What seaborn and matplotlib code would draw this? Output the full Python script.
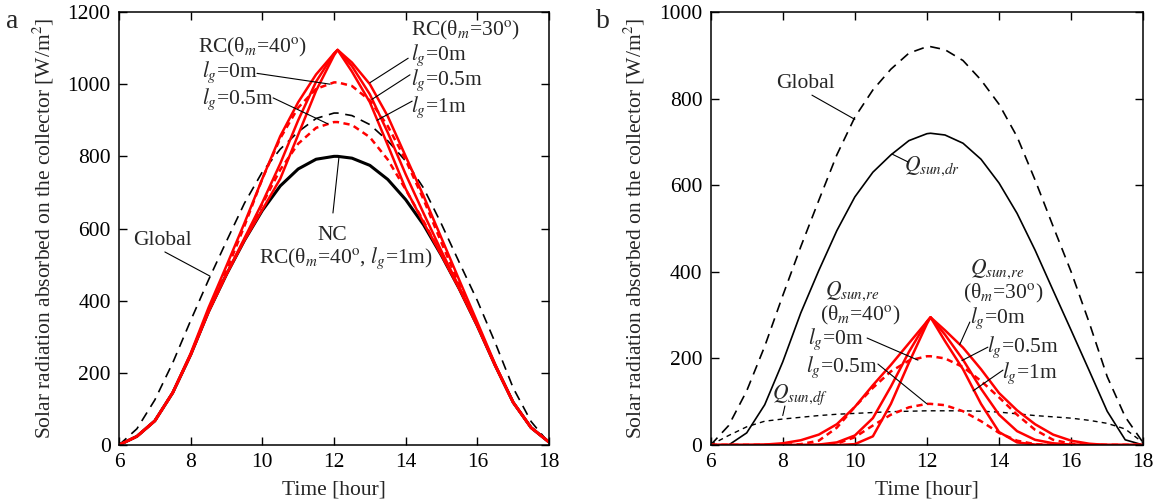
import numpy as np
import pandas as pd
import matplotlib
matplotlib.use('Agg')
import matplotlib.pyplot as plt
import seaborn as sns

sns.set_style('ticks')
plt.rcParams['font.family'] = ['Liberation Serif', 'DejaVu Serif']
plt.rcParams['mathtext.fontset'] = 'stix'
plt.rcParams['font.size'] = 15.5

# time of day [hour]
hours = [6, 6.5, 7, 7.5, 8, 8.5, 9, 9.5, 10, 10.5, 11, 11.5, 12, 12.1,
         12.5, 13, 13.5, 14, 14.5, 15, 15.5, 16, 16.5, 17, 17.5, 18]

# panel b: components [W/m2]
q_global = [0, 45, 125, 228, 345, 458, 565, 670, 757, 820, 868, 905, 920, 920,
            913, 888, 843, 787, 712, 612, 505, 400, 283, 158, 65, 5]
q_dr = [0, 0, 28, 93, 192, 305, 403, 495, 573, 630, 670, 703, 719, 720,
        716, 697, 660, 605, 535, 450, 357, 265, 172, 78, 12, 0]
q_df = [0, 22, 42, 55, 60, 64, 68, 71, 73, 75, 77, 78, 79, 79,
        79, 79, 78, 76, 72, 68, 65, 62, 57, 50, 37, 5]
re30_lg0 = [0, 0, 0, 1, 4, 11, 24, 48, 88, 138, 185, 235, 285, 295,
            265, 225, 175, 120, 80, 48, 24, 10, 3, 0, 0, 0]
re30_lg05 = [0, 0, 0, 0, 0, 0, 1, 6, 22, 62, 135, 215, 285, 295,
             255, 197, 130, 70, 32, 12, 4, 1, 0, 0, 0, 0]
re30_lg1 = [0, 0, 0, 0, 0, 0, 0, 0, 2, 20, 95, 190, 280, 295,
            240, 175, 95, 30, 6, 1, 0, 0, 0, 0, 0, 0]
re40_lg0 = [0, 0, 0, 0, 0, 2, 10, 40, 88, 132, 170, 195, 205, 205,
            200, 180, 148, 110, 70, 35, 12, 3, 0, 0, 0, 0]
re40_lg05 = [0, 0, 0, 0, 0, 0, 0, 3, 18, 45, 70, 87, 95, 95,
             92, 78, 55, 28, 10, 2, 0, 0, 0, 0, 0, 0]

# panel a: totals absorbed [W/m2]
nc = [0, 24, 67, 145, 250, 370, 473, 567, 650, 718, 765, 792, 800, 800,
      795, 775, 736, 680, 610, 525, 432, 330, 220, 118, 48, 8]
rc30_lg0 = [0, 24, 67, 146, 254, 381, 497, 615, 738, 856, 950, 1027, 1085, 1095,
            1060, 1000, 911, 800, 690, 573, 456, 340, 223, 118, 48, 8]
rc30_lg05 = [0, 24, 67, 145, 250, 370, 474, 573, 672, 780, 900, 1007, 1085, 1095,
             1050, 972, 866, 750, 642, 537, 436, 331, 220, 118, 48, 8]
rc30_lg1 = [0, 24, 67, 145, 250, 370, 473, 567, 652, 738, 860, 982, 1080, 1095,
            1035, 950, 831, 710, 616, 526, 432, 330, 220, 118, 48, 8]
rc40_lg0 = [0, 24, 67, 145, 250, 372, 483, 607, 738, 850, 935, 987, 1005, 1005,
            995, 955, 884, 790, 680, 560, 444, 333, 220, 118, 48, 8]
rc40_lg05 = [0, 24, 67, 145, 250, 370, 473, 570, 668, 763, 835, 879, 895, 895,
             887, 853, 791, 708, 620, 527, 432, 330, 220, 118, 48, 8]

RED = '#ff0000'
FS = 15.5

fig = plt.figure(figsize=(11.61, 5.03), dpi=100)
ax_a = fig.add_axes([0.1025, 0.1153, 0.3704, 0.8608])
ax_b = fig.add_axes([0.6121, 0.1153, 0.3726, 0.8608])


def line(ax, y, color, lw, ls='-'):
    sns.lineplot(x=hours, y=y, ax=ax, color=color, lw=lw, linestyle=ls,
                 errorbar=None)


def label(ax, txt, pos, start=None, end=None):
    ax.text(pos[0], pos[1], txt, ha='center', va='center', fontsize=FS)
    if start is not None:
        ax.annotate('', xy=end, xytext=start,
                    arrowprops=dict(arrowstyle='-', lw=0.8, color='k',
                                    shrinkA=0, shrinkB=0))


# ---- panel a
line(ax_a, q_global, 'k', 1.2, (0, (6, 4)))
line(ax_a, nc, 'k', 2.2)
line(ax_a, rc30_lg0, RED, 1.8)
line(ax_a, rc30_lg05, RED, 1.8)
line(ax_a, rc30_lg1, RED, 1.8)
line(ax_a, rc40_lg0, RED, 1.8, (0, (2.5, 1.8)))
line(ax_a, rc40_lg05, RED, 1.8, (0, (2.5, 1.8)))

label(ax_a, 'RC(θ$_m$=40$^{\\rm o}$)', (9.74, 1103))
label(ax_a, 'RC(θ$_m$=30$^{\\rm o}$)', (15.66, 1150))
label(ax_a, '$l_g$=0m', (14.93, 1080), (14.07, 1072), (13.0, 1004))
label(ax_a, '$l_g$=0.5m', (15.15, 1010), (14.12, 1026), (13.06, 958))
label(ax_a, '$l_g$=1m', (14.93, 936), (14.18, 953), (13.2, 900))
label(ax_a, '$l_g$=0m', (9.1, 1033), (9.85, 1030), (11.89, 1000))
label(ax_a, '$l_g$=0.5m', (9.32, 959), (10.3, 962), (11.83, 890))
label(ax_a, 'Global', (7.2, 568), (7.28, 535), (8.54, 468))
label(ax_a, 'NC', (11.94, 582), (11.97, 643), (12.14, 800))
label(ax_a, 'RC(θ$_m$=40$^{\\rm o}$, $l_g$=1m)', (12.34, 518))

ax_a.set_ylim(0, 1200)
ax_a.set_yticks(range(0, 1201, 200))

# ---- panel b
line(ax_b, q_global, 'k', 1.2, (0, (6, 4)))
line(ax_b, q_dr, 'k', 1.2)
line(ax_b, q_df, 'k', 1.0, (0, (3.5, 3)))
line(ax_b, re30_lg0, RED, 1.8)
line(ax_b, re30_lg05, RED, 1.8)
line(ax_b, re30_lg1, RED, 1.8)
line(ax_b, re40_lg0, RED, 1.8, (0, (2.5, 1.8)))
line(ax_b, re40_lg05, RED, 1.8, (0, (2.5, 1.8)))

label(ax_b, 'Global', (8.62, 834), (8.81, 808), (10.0, 752))
label(ax_b, '$Q_{sun{,}dr}$', (12.14, 644), (11.47, 654), (11.03, 672))
label(ax_b, '$Q_{sun{,}re}$', (9.92, 354))
label(ax_b, '(θ$_m$=40$^{\\rm o}$)', (10.14, 298))
label(ax_b, '$l_g$=0m', (9.48, 245), (10.34, 247), (11.75, 196))
label(ax_b, '$l_g$=0.5m', (9.64, 180), (10.64, 187), (12.0, 95))
label(ax_b, '$Q_{sun{,}df}$', (8.47, 115), (8.06, 90), (8.0, 68))
label(ax_b, '$Q_{sun{,}re}$', (13.94, 405))
label(ax_b, '(θ$_m$=30$^{\\rm o}$)', (14.11, 349))
label(ax_b, '$l_g$=0m', (13.97, 293), (13.19, 284), (12.91, 232))
label(ax_b, '$l_g$=0.5m', (14.66, 226), (13.69, 226), (12.97, 195))
label(ax_b, '$l_g$=1m', (14.86, 166), (14.11, 173), (13.28, 125))

ax_b.set_ylim(0, 1000)
ax_b.set_yticks(range(0, 1001, 200))

for ax in (ax_a, ax_b):
    ax.set_xlim(6, 18)
    ax.set_xticks(range(6, 19, 2))
    ax.tick_params(direction='in', top=True, right=True, length=6,
                   width=1, labelsize=FS, pad=6, colors='k')
    for s in ax.spines.values():
        s.set_linewidth(1.1)
        s.set_color('k')
    ax.set_xlabel('Time [hour]', fontsize=FS)
    ax.set_ylabel('Solar radiation absorbed on the collector [W/m$^2$]',
                  fontsize=FS)
    ax.xaxis.set_label_coords(0.5, -0.082)
ax_a.yaxis.set_label_coords(-0.146, 0.5)
ax_b.yaxis.set_label_coords(-0.147, 0.5)

fig.text(12 / 1161, 1 - 21 / 503, 'a', fontsize=20, ha='center', va='center')
fig.text(603 / 1161, 1 - 21 / 503, 'b', fontsize=20, ha='center', va='center')

fig.savefig('out.png', dpi=100)
